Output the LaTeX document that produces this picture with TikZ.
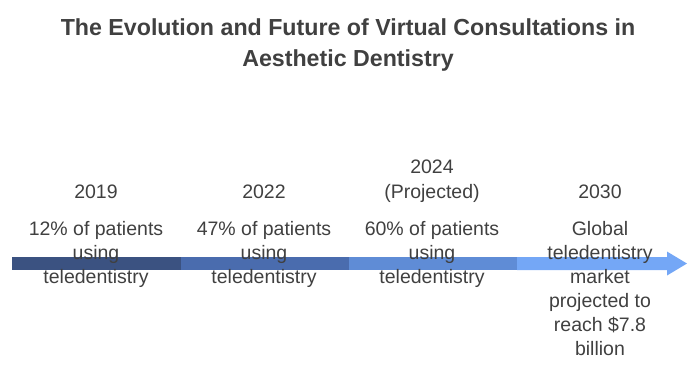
\documentclass[tikz,border=0pt]{standalone}
\usepackage{fontspec}
\setmainfont{Liberation Sans}
\definecolor{txtgray}{HTML}{404040}
\definecolor{segA}{HTML}{3B5281}
\definecolor{segB}{HTML}{4A6CAE}
\definecolor{segC}{HTML}{5F8CD6}
\definecolor{segD}{HTML}{74A7F6}
\begin{document}
\begin{tikzpicture}[x=1pt,y=-1pt,
   title/.style={align=center,inner sep=0pt,anchor=north,text=txtgray,
    font=\fontsize{23.2}{31}\selectfont\bfseries},
   year/.style={align=center,inner sep=0pt,anchor=north,text=txtgray,
    font=\fontsize{19.5}{25}\selectfont},
   desc/.style={align=center,inner sep=0pt,anchor=north,text=txtgray,
    font=\fontsize{19.5}{24}\selectfont}
    ]
  \useasboundingbox (0,0) rectangle (697,373);

  % -- title
  \node[title] at (348,18.5) (head) {The Evolution and Future of Virtual Consultations in\\Aesthetic Dentistry};

  % -- timeline bar
  \coordinate (s0) at (12,263.5);
  \coordinate (s1) at (181,263.5);
  \coordinate (s2) at (349,263.5);
  \coordinate (s3) at (517,263.5);
  \coordinate (s4) at (667,263.5);
  \coordinate (tip) at (687,263.5);
  \fill[segA] ([yshift=-6.5pt]s0) rectangle ([yshift=6.5pt]s1);
  \fill[segB] ([yshift=-6.5pt]s1) rectangle ([yshift=6.5pt]s2);
  \fill[segC] ([yshift=-6.5pt]s2) rectangle ([yshift=6.5pt]s3);
  \fill[segD] ([yshift=-6.5pt]s3) -- ([yshift=-6.5pt]s4) -- ([yshift=-12pt]s4)
    -- (tip) -- ([yshift=12pt]s4) -- ([yshift=6.5pt]s4) -- ([yshift=6.5pt]s3) -- cycle;

  % -- years
  \node[year] at (96,185) (y1) {2019};
  \node[year] at (264,185) (y2) {2022};
  \node[year] at (432,160) (y3) {2024\\(Projected)};
  \node[year] at (600,185) (y4) {2030};

  % -- descriptions
  \node[desc] at (96,221) (d1) {12\% of patients\\using\\teledentistry};
  \node[desc] at (264,221) (d2) {47\% of patients\\using\\teledentistry};
  \node[desc] at (432,221) (d3) {60\% of patients\\using\\teledentistry};
  \node[desc] at (600,221) (d4) {Global\\teledentistry\\market\\projected to\\reach \$7.8\\billion};

\end{tikzpicture}
\end{document}
